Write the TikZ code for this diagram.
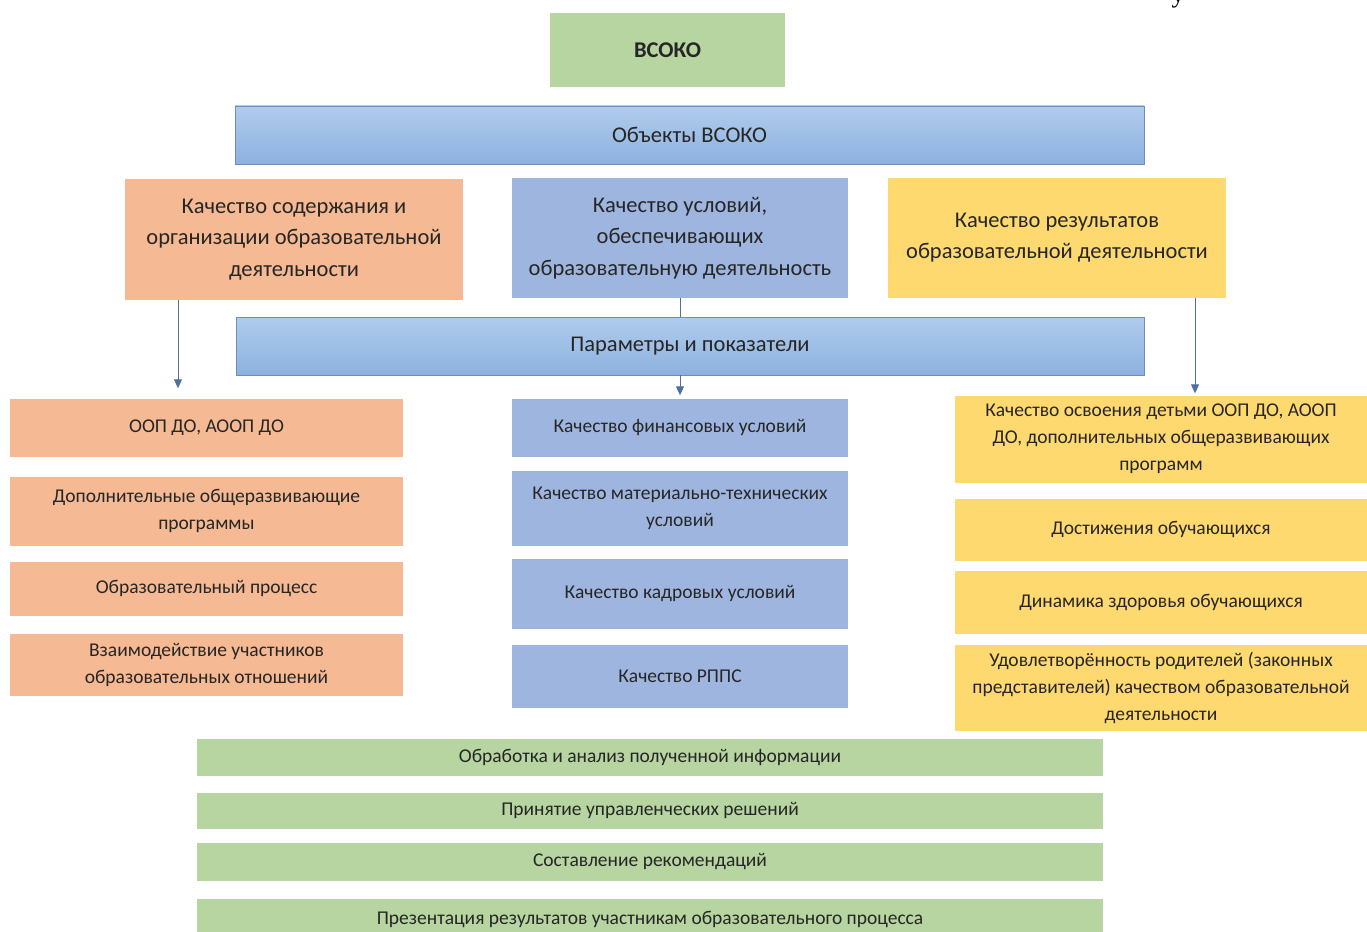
\documentclass[tikz,border=0pt]{standalone}
\usepackage{fontspec}
\setmainfont{Carlito}
\newfontfamily\serifletter{Liberation Serif}
\usetikzlibrary{arrows.meta}
\definecolor{cgreen}{HTML}{B6D5A0}
\definecolor{corange}{HTML}{F5B993}
\definecolor{cblue}{HTML}{9EB6DF}
\definecolor{cyellow}{HTML}{FED970}
\definecolor{gtop}{HTML}{B0CCEC}
\definecolor{gbot}{HTML}{8DB1DF}
\definecolor{gborder}{HTML}{6D8DBE}
\definecolor{carrow}{HTML}{4F6F9F}
\definecolor{ctext}{HTML}{262626}
\tikzset{
  box/.style={inner sep=0pt, align=center, text=ctext},
  bigtext/.style={font=\fontsize{22.5}{31.5}\selectfont},
  smalltext/.style={font=\fontsize{19.5}{27}\selectfont},
  gradbar/.style={box, bigtext, top color=gtop, bottom color=gbot, draw=gborder, line width=0.8pt},
  obox/.style={box, fill=corange},
  bbox/.style={box, fill=cblue},
  ybox/.style={box, fill=cyellow},
  gbox/.style={box, fill=cgreen},
  arr/.style={draw=carrow, line width=1pt, -{Triangle[width=8pt,length=9pt]}},
  plain/.style={draw=carrow, line width=1pt}
}
\begin{document}
\begin{tikzpicture}[x=1pt,y=-1pt]
\useasboundingbox (0,0) rectangle (1367,931);
\clip (0,0) rectangle (1367,931);
\fill[white] (0,0) rectangle (1367,931);

\node[font=\serifletter\fontsize{26}{26}\selectfont, anchor=base, text=black, inner sep=0pt] (frag) at (1178,3) {у};

\node[gbox, minimum width=235pt, minimum height=74pt, font=\fontsize{22.5}{26}\selectfont\bfseries] (vsoko) at (667.5,50) {ВСОКО};
\node[gradbar, minimum width=909pt, minimum height=58pt] (obj) at (689.5,135) {Объекты ВСОКО};

\node[obox, bigtext, minimum width=338pt, minimum height=121pt] (q1) at (294,239.5) {Качество содержания и\\организации образовательной\\деятельности};
\node[bbox, bigtext, minimum width=336pt, minimum height=120pt] (q2) at (680,238) {Качество условий,\\обеспечивающих\\образовательную деятельность};
\node[ybox, bigtext, minimum width=338pt, minimum height=120pt] (q3) at (1057,237.5) {Качество результатов\\образовательной деятельности};

\node[gradbar, minimum width=908pt, minimum height=58pt] (par) at (690,346) {Параметры и показатели};

% left column
\node[obox, smalltext, minimum width=393pt, minimum height=58pt] (L1) at (206.5,427.5) {ООП ДО, АООП ДО};
\node[obox, smalltext, minimum width=393pt, minimum height=69pt] (L2) at (206.5,511) {Дополнительные общеразвивающие\\программы};
\node[obox, smalltext, minimum width=393pt, minimum height=54pt] (L3) at (206.5,588.5) {Образовательный процесс};
\node[obox, smalltext, minimum width=393pt, minimum height=62pt] (L4) at (206.5,664.5) {Взаимодействие участников\\образовательных отношений};

% middle column
\node[bbox, smalltext, minimum width=336pt, minimum height=58pt] (M1) at (680,427.5) {Качество финансовых условий};
\node[bbox, smalltext, minimum width=336pt, minimum height=75pt] (M2) at (680,508) {Качество материально-технических\\условий};
\node[bbox, smalltext, minimum width=336pt, minimum height=70pt] (M3) at (680,593.5) {Качество кадровых условий};
\node[bbox, smalltext, minimum width=336pt, minimum height=63pt] (M4) at (680,676) {Качество РППС};

% right column
\node[ybox, smalltext, minimum width=412pt, minimum height=87pt] (R1) at (1161,439) {Качество освоения детьми ООП ДО, АООП\\ДО, дополнительных общеразвивающих\\программ};
\node[ybox, smalltext, minimum width=412pt, minimum height=62pt] (R2) at (1161,529.5) {Достижения обучающихся};
\node[ybox, smalltext, minimum width=412pt, minimum height=63pt] (R3) at (1161,602) {Динамика здоровья обучающихся};
\node[ybox, smalltext, minimum width=412pt, minimum height=86pt] (R4) at (1161,687.5) {Удовлетворённость родителей (законных\\представителей) качеством образовательной\\деятельности};

% green bars
\node[gbox, smalltext, minimum width=906pt, minimum height=37pt] (G1) at (650,757) {Обработка и анализ полученной информации};
\node[gbox, smalltext, minimum width=906pt, minimum height=36pt] (G2) at (650,810.5) {Принятие управленческих решений};
\node[gbox, smalltext, minimum width=906pt, minimum height=38pt] (G3) at (650,861.5) {Составление рекомендаций};
\node[gbox, smalltext, minimum width=906pt, minimum height=42pt] (G4) at (650,919.5) {Презентация результатов участникам образовательного процесса};

% connectors
\path (q1.south) ++(-116,0) coordinate (a1);
\draw[arr, shorten >=10pt] (a1) -- (a1 |- L1.north);
\draw[plain] (q2.south) -- (q2.south |- par.north);
\draw[arr, shorten >=3pt] (M1.north |- par.south) -- (M1.north);
\path (q3.south) ++(138,0) coordinate (a3);
\draw[arr, shorten >=2pt] (a3) -- (a3 |- R1.north);
\end{tikzpicture}
\end{document}
